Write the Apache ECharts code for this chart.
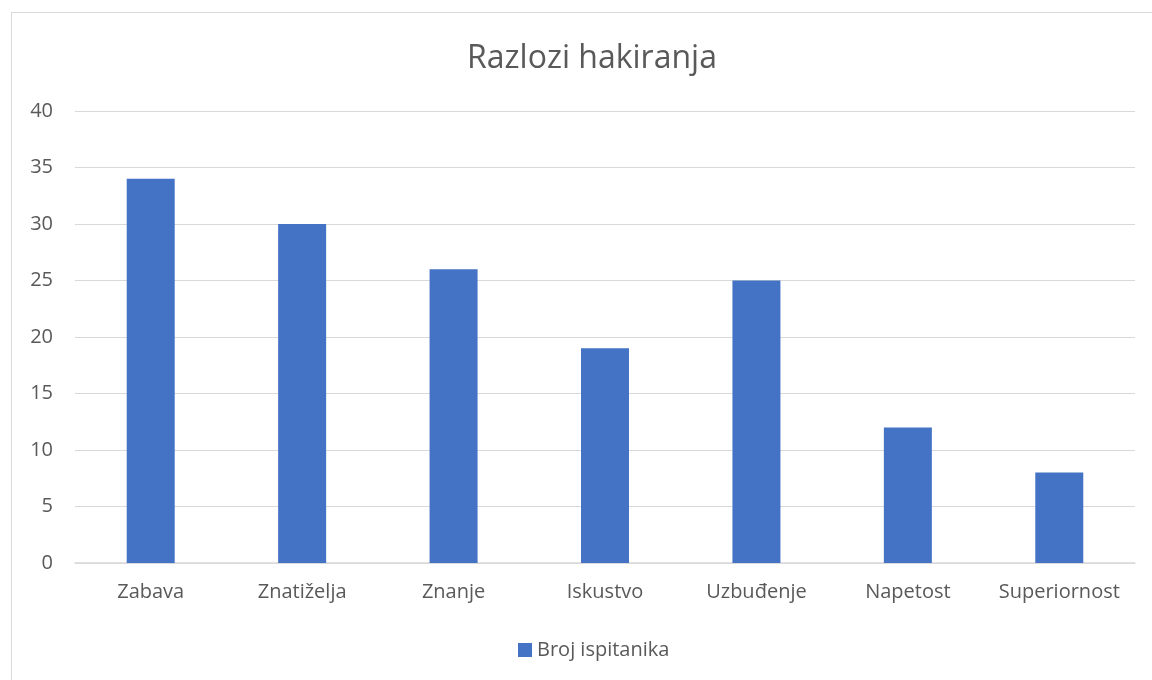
<!DOCTYPE html>
<html><head><meta charset="utf-8">
<script src="https://cdn.jsdelivr.net/npm/echarts@6/dist/echarts.min.js"></script>
<style>
html,body{margin:0;padding:0;background:#fff;}
#frame{position:absolute;left:11px;top:12px;width:1160px;height:700px;border:1px solid #d9d9d9;box-sizing:border-box;}
#c{position:absolute;left:0;top:0;width:1152px;height:680px;}
</style></head>
<body>
<div id="frame"></div>
<div id="c"></div>
<script>
const title = 'Razlozi hakiranja';
const seriesName = 'Broj ispitanika';
const categories = ['Zabava','Znatiželja','Znanje','Iskustvo','Uzbuđenje','Napetost','Superiornost'];
const values = [34, 30, 26, 19, 25, 12, 8];
const yMin = 0, yMax = 40, yStep = 5;

const chart = echarts.init(document.getElementById('c'), null, {renderer:'canvas'});
const font = "'Open Sans', 'Liberation Sans', sans-serif";
chart.setOption({
  animation:false,
  title:{text:title,left:587,top:38,textAlign:'center',textStyle:{fontFamily:font,fontSize:32,fontWeight:'normal',color:'#595959'}},
  legend:{data:[seriesName],left:513,top:635,itemWidth:14,itemHeight:14,itemGap:7,icon:'rect',
    textStyle:{fontFamily:font,fontSize:20,color:'#595959'}},
  grid:{left:75,right:17,top:111,bottom:117,containLabel:false},
  xAxis:{type:'category',data:categories,
    axisLine:{lineStyle:{color:'#d9d9d9',width:1.5}},axisTick:{show:false},
    axisLabel:{interval:0,hideOverlap:false,fontFamily:font,fontSize:20,color:'#595959',margin:19}},
  yAxis:{type:'value',min:yMin,max:yMax,interval:yStep,
    axisLine:{show:false},axisTick:{show:false},
    splitLine:{lineStyle:{color:'#d9d9d9',width:1}},
    axisLabel:{fontFamily:font,fontSize:20,color:'#595959',margin:22}},
  series:[{name:seriesName,type:'bar',data:values,barWidth:48,itemStyle:{color:'#4472c4'}}]
});
</script>
</body></html>
